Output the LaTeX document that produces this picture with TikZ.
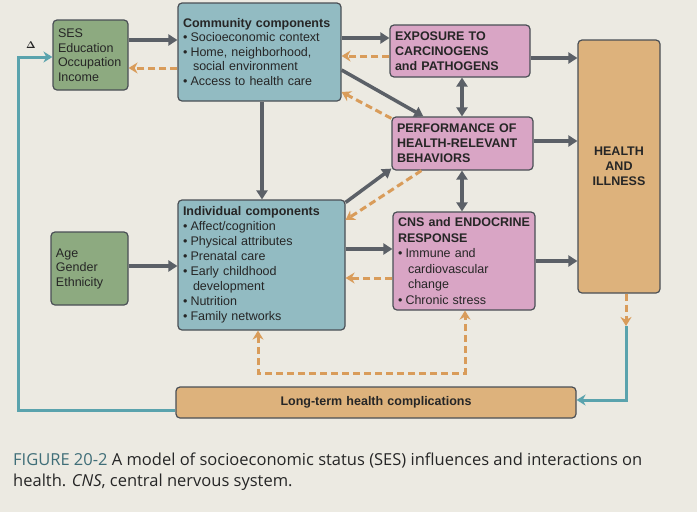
\documentclass[tikz,border=0pt]{standalone}
\usepackage{fontspec}
\setmainfont{Liberation Sans}
\newfontfamily\capfont{Open Sans}
\usepackage{xcolor}
\usepackage{tikz}
\usetikzlibrary{arrows.meta}

\definecolor{paper}{HTML}{ECEAE2}
\definecolor{sesgreen}{HTML}{8DAA80}
\definecolor{compblue}{HTML}{92BBC2}
\definecolor{mechpink}{HTML}{D9A5C5}
\definecolor{outtan}{HTML}{DDB27C}
\definecolor{edge}{HTML}{4A4F55}
\definecolor{ink}{HTML}{262626}
\definecolor{figteal}{HTML}{3F6E78}
\definecolor{arrgrey}{HTML}{5B6067}
\definecolor{arrorange}{HTML}{D99C5A}
\definecolor{arrteal}{HTML}{5AA3AD}

\newcommand\bpt[1]{\par\hangindent=0.8em\hangafter=1\textbullet\hspace{0.25em}#1}

\tikzset{
  box/.style={draw=edge, line width=1.2pt, rounded corners=4pt, inner sep=5pt,
    align=left, text=ink, font=\fontsize{12.5}{14.5}\selectfont},
  flow/.style={draw=arrgrey, line width=3.5pt, -{Triangle[length=9pt,width=11pt]}},
  twoway/.style={draw=arrgrey, line width=3.5pt,
    {Triangle[length=9pt,width=11pt]}-{Triangle[length=9pt,width=11pt]}},
  retn/.style={draw=arrorange, line width=3pt, dash pattern=on 7pt off 4pt,
    -{Stealth[length=9pt,width=11pt]}},
  retnboth/.style={retn, {Stealth[length=9pt,width=11pt]}-{Stealth[length=9pt,width=11pt]}},
  fbline/.style={draw=arrteal, line width=3pt, -{Stealth[length=9pt,width=11pt]}}
}

\begin{document}
\begin{tikzpicture}[x=1pt,y=-1pt]
  \fill[paper] (0,0) rectangle (697,512);
  \useasboundingbox (0,0) rectangle (697,512);

  % boxes
  \node[box, fill=sesgreen, minimum width=75, minimum height=70, text width=65] (ses) at (90.5,55)
    {SES\\Education\\Occupation\\Income};
  \node[box, fill=compblue, minimum width=163, minimum height=98, text width=153] (comm) at (259.5,52)
    {\textbf{Community components}\bpt{Socioeconomic context}\bpt{Home, neighborhood,\newline social environment}\bpt{Access to health care}};
  \node[box, fill=mechpink, minimum width=140, minimum height=52, text width=130, font=\fontsize{12.5}{15}\selectfont\bfseries] (expo) at (460,51)
    {EXPOSURE TO\\CARCINOGENS\\and PATHOGENS};
  \node[box, fill=mechpink, minimum width=141, minimum height=53, text width=131, font=\fontsize{12.5}{15}\selectfont\bfseries] (perf) at (462.5,143.5)
    {PERFORMANCE OF\\HEALTH-RELEVANT\\BEHAVIORS};
  \node[box, fill=outtan, minimum width=82, minimum height=253, text width=72, align=center, font=\fontsize{12.5}{15}\selectfont\bfseries] (health) at (619,166.5)
    {HEALTH\\AND\\ILLNESS};
  \node[box, fill=compblue, minimum width=167, minimum height=130, text width=157, font=\fontsize{12.5}{15}\selectfont] (indiv) at (261.5,265)
    {\textbf{Individual components}\bpt{Affect/cognition}\bpt{Physical attributes}\bpt{Prenatal care}\bpt{Early childhood\newline development}\bpt{Nutrition}\bpt{Family networks}};
  \node[box, fill=sesgreen, minimum width=77, minimum height=73, text width=67] (demo) at (89.5,268.5)
    {Age\\Gender\\Ethnicity};
  \node[box, fill=mechpink, minimum width=142, minimum height=98, text width=132, font=\fontsize{12.5}{15.5}\selectfont] (cns) at (464,261)
    {{\bfseries CNS and ENDOCRINE\newline RESPONSE}\bpt{Immune and\newline cardiovascular\newline change}\bpt{Chronic stress}};
  \node[box, fill=outtan, minimum width=400, minimum height=31, text width=390, align=center, font=\fontsize{12.5}{15}\selectfont\bfseries] (ltc) at (376,402.5)
    {Long-term health complications};

  \node[text=ink, inner sep=0, font=\fontsize{10}{10}\selectfont\boldmath] (dlt) at (31,45) {$\Delta$};

  \coordinate (brk) at (258,373);
  \coordinate (hbend) at (626,326);
  \coordinate (sesin) at (18,57);

  % grey forward arrows
  \draw[flow] (ses.east |- 0,40) -- (comm.west |- 0,40);
  \draw[flow] (comm.east |- 0,38) -- (expo.west |- 0,38);
  \draw[flow] (comm.east |- 0,70) -- ([xshift=32]perf.north west);
  \draw[flow] (comm.south -| 262,0) -- (indiv.north -| 262,0);
  \draw[flow] ([yshift=-3]indiv.north east) -- ([yshift=2]perf.south west);
  \draw[flow] (indiv.east |- 0,249) -- (cns.west |- 0,249);
  \draw[flow] (demo.east |- 0,266) -- (indiv.west |- 0,266);
  \draw[flow] (expo.east |- 0,58) -- (health.west |- 0,58);
  \draw[flow] (perf.east |- 0,141) -- (health.west |- 0,141);
  \draw[flow] (cns.east |- 0,261) -- (health.west |- 0,261);
  \draw[twoway] (expo.south -| 462,0) -- (perf.north -| 462,0);
  \draw[twoway] (perf.south -| 462,0) -- (cns.north -| 462,0);

  % orange feedback
  \draw[retn] (comm.west |- 0,68) -- (ses.east |- 0,68);
  \draw[retn] (expo.west |- 0,56) -- (comm.east |- 0,56);
  \draw[retn] ([yshift=-2]perf.north west) -- (comm.east |- 0,92);
  \draw[retn] ([xshift=30]perf.south west) -- (indiv.east |- 0,220);
  \draw[retn] (cns.west |- 0,278) -- (indiv.east |- 0,278);
  \draw[retnboth] ([xshift=-3.5]indiv.south) -- (brk) -| ([xshift=1]cns.south);
  \draw[retn] ([xshift=7]health.south) -- (hbend);

  % teal loop back to SES
  \draw[fbline] (hbend) |- (ltc.east |- 0,400);
  \draw[fbline] (ltc.west |- 0,410) -| (sesin) -- (ses.west |- sesin);

  % caption
  \node[anchor=north west, inner sep=0, align=left, text=ink, font=\capfont\fontsize{16.5}{20.5}\selectfont] (cap) at (13,453)
    {\textcolor{figteal}{FIGURE 20-2} A model of socioeconomic status (SES) influences and interactions on\\health. \textit{CNS}, central nervous system.};
\end{tikzpicture}
\end{document}
